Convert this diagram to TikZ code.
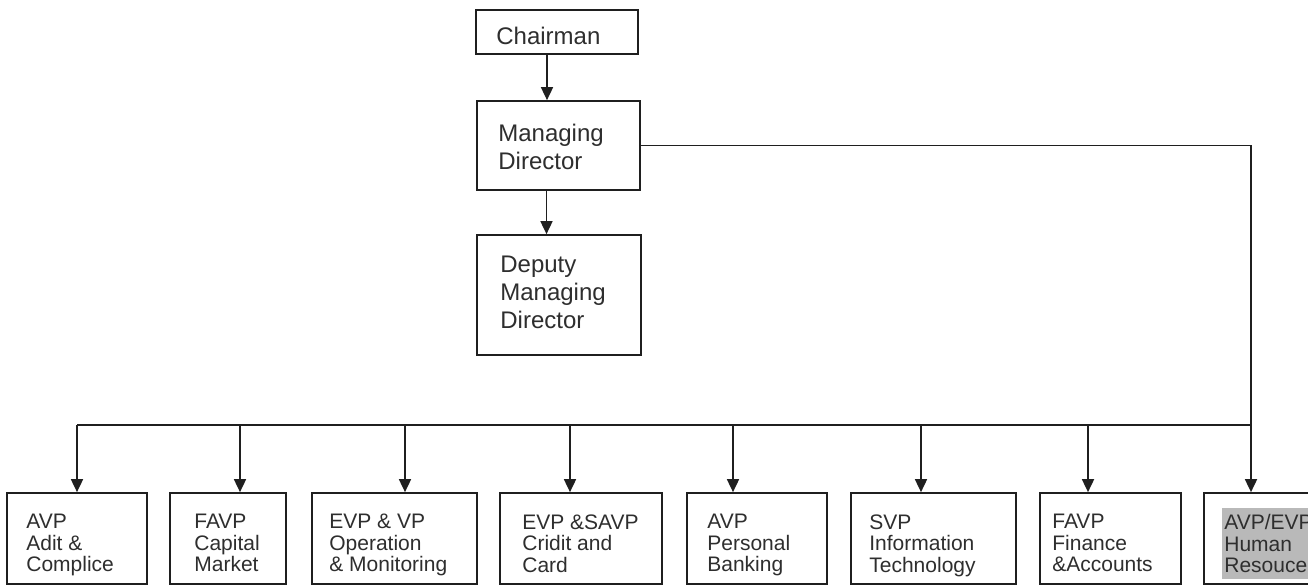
\documentclass[tikz,border=0pt]{standalone}
\usepackage{fontspec}
\setmainfont{Liberation Sans}
\usetikzlibrary{arrows.meta}
\begin{document}
\begin{tikzpicture}[x=1pt,y=-1pt,
  line/.style={draw=black!88, line width=1.7pt},
  arr/.style={line, -{Triangle[width=12pt,length=13pt]}},
  box/.style={line, fill=white, rectangle, inner sep=0pt},
  toptxt/.style={inner sep=0pt, align=left, text=black!82,
    font=\fontsize{24}{28}\selectfont},
  lowtxt/.style={inner sep=0pt, align=left, text=black!82, anchor=north west,
    font=\fontsize{21}{21.5}\selectfont},
  shaded/.style={fill=gray!55, inner xsep=2pt, inner ysep=6pt}]
\useasboundingbox (0,0) rectangle (1308,586);
\clip (0,0) rectangle (1308,586);

% top of the hierarchy
\node[box, minimum width=162pt, minimum height=44pt]  (chair) at (557,32) {};
\node[box, minimum width=163pt, minimum height=89pt]  (md)    at (558.5,145.5) {};
\node[box, minimum width=164pt, minimum height=120pt] (dmd)   at (559,295) {};
\node[toptxt, anchor=west] at ([xshift=21pt,yshift=-4pt]chair.west) {Chairman};
\node[toptxt, anchor=west] at ([xshift=22pt,yshift=-1pt]md.west) {Managing\\Director};
\node[toptxt, anchor=west] at ([xshift=24pt,yshift=3pt]dmd.west) {Deputy\\Managing\\Director};

% departments
\node[box, minimum width=140pt, minimum height=91pt] (b1) at (77,538.5) {};
\node[box, minimum width=116pt, minimum height=91pt] (b2) at (228,538.5) {};
\node[box, minimum width=165pt, minimum height=91pt] (b3) at (394.5,538.5) {};
\node[box, minimum width=162pt, minimum height=91pt] (b4) at (581,538.5) {};
\node[box, minimum width=140pt, minimum height=91pt] (b5) at (757,538.5) {};
\node[box, minimum width=165pt, minimum height=91pt] (b6) at (933.5,538.5) {};
\node[box, minimum width=141pt, minimum height=91pt] (b7) at (1110.5,538.5) {};
\node[box, minimum width=156pt, minimum height=91pt] (b8) at (1282,538.5) {};

\node[lowtxt] at ([xshift=20pt,yshift=-22pt]b1.north west) {AVP\\Adit \&\\Complice};
\node[lowtxt] at ([xshift=25pt,yshift=-22pt]b2.north west) {FAVP\\Capital\\Market};
\node[lowtxt] at ([xshift=18pt,yshift=-22pt]b3.north west) {EVP \& VP\\Operation\\\& Monitoring};
\node[lowtxt] at ([xshift=23pt,yshift=-22pt]b4.north west) {EVP \&SAVP\\Cridit and\\Card};
\node[lowtxt] at ([xshift=21pt,yshift=-22pt]b5.north west) {AVP\\Personal\\Banking};
\node[lowtxt] at ([xshift=19pt,yshift=-22pt]b6.north west) {SVP\\Information\\Technology};
\node[lowtxt] at ([xshift=13pt,yshift=-22pt]b7.north west) {FAVP\\Finance\\\&Accounts};
\node[lowtxt, shaded] at ([xshift=19pt,yshift=-16pt]b8.north west) {AVP/EVP\\Human\\Resouce};

% vertical chain
\path ([xshift=-10pt]chair.south) coordinate (c1);
\draw[arr] (c1) -- (c1 |- md.north);
\path ([xshift=-12pt]md.south) coordinate (c2);
\draw[arr] (c2) -- (c2 |- dmd.north);

% distribution bus
\coordinate (t1) at (77,425);
\coordinate (t2) at (240,425);
\coordinate (t3) at (405,425);
\coordinate (t4) at (570,425);
\coordinate (t5) at (733,425);
\coordinate (t6) at (921,425);
\coordinate (t7) at (1088,425);
\coordinate (t8) at (1251,425);
\draw[line] (t1) -- (t8);
\draw[arr] (md.east) -| (t8 |- b8.north);
\foreach \i in {1,...,7}
  \draw[arr] (t\i) -- (t\i |- b\i.north);
\end{tikzpicture}
\end{document}
